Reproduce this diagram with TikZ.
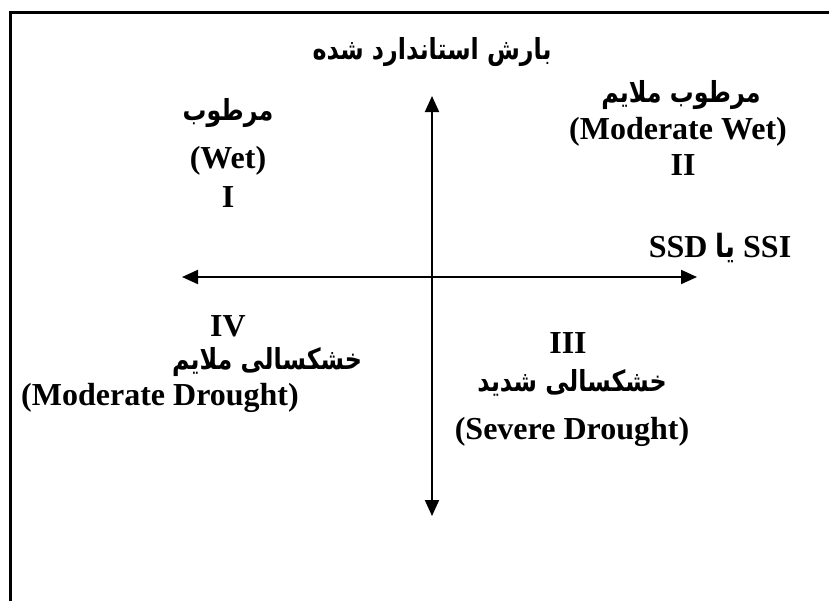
\documentclass[tikz,border=0pt]{standalone}
\usepackage{fontspec}
\setmainfont{Liberation Serif}
\newfontfamily\farsi[Script=Arabic, FakeStretch=0.82]{DejaVu Sans}
\TeXXeTstate=1
\usetikzlibrary{arrows.meta}

\begin{document}
\begin{tikzpicture}[x=0.5pt, y=-0.5pt,
		lbl/.style={font=\bfseries\fontsize{16}{19}\selectfont, inner sep=0pt},
		fa/.style={font=\farsi\bfseries\fontsize{14.5}{18}\selectfont, inner sep=0pt},
		axis/.style={line width=1pt, {Triangle[length=8pt,width=7pt]}-{Triangle[length=8pt,width=7pt]}}]
	\useasboundingbox (0,0) rectangle (829,601);
	% frame (only top and left are visible)
	\draw[line width=1.5pt] (10,601) -- (10,12) -- (829,12);
	% axes
	\node[shape=coordinate] (top) at (432, 96) {};
	\node[shape=coordinate] (bot) at (432,516) {};
	\node[shape=coordinate] (lft) at (182,277) {};
	\node[shape=coordinate] (rgt) at (697,277) {};
	\draw[axis] (top) -- (bot);
	\draw[axis] (lft) -- (rgt);
	% axis titles
	\node[fa] (ytitle) at (432,52) {\beginR بارش استاندارد شده\endR};
	\node[lbl] (xtitle) at (720,248) {\beginR\beginL SSI\endL{} {\farsi یا} \beginL SSD\endL\endR};
	% quadrant I
	\node[fa] (q1fa) at (228,113) {\beginR مرطوب\endR};
	\node[lbl] (q1en) at (228,161) {(Wet)};
	\node[lbl] (q1) at (228,197) {I};
	% quadrant II
	\node[fa] (q2fa) at (681,95) {\beginR مرطوب ملایم\endR};
	\node[lbl] (q2en) at (678,132) {(Moderate Wet)};
	\node[lbl] (q2) at (683,165) {II};
	% quadrant III
	\node[lbl] (q3) at (568,343) {III};
	\node[fa] (q3fa) at (572,383) {\beginR خشکسالی شدید\endR};
	\node[lbl] (q3en) at (572,432) {(Severe Drought)};
	% quadrant IV
	\node[lbl] (q4) at (228,326) {IV};
	\node[fa] (q4fa) at (267,362) {\beginR خشکسالی ملایم\endR};
	\node[lbl] (q4en) at (160,398) {(Moderate Drought)};
\end{tikzpicture}
\end{document}
